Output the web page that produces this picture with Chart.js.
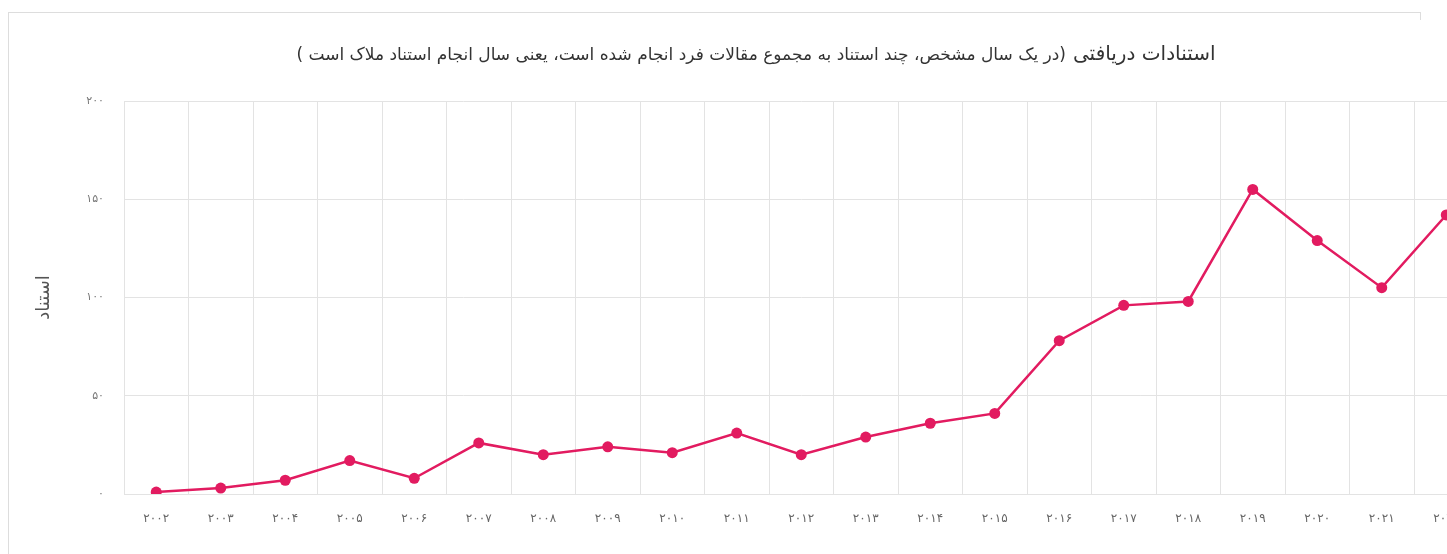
<!DOCTYPE html>
<html lang="fa">
<head>
<meta charset="utf-8">
<title>استنادات دریافتی</title>
<script src="https://cdn.jsdelivr.net/npm/chart.js@4.4.0/dist/chart.umd.min.js"></script>
<style>
  html, body { margin: 0; padding: 0; background: #fff; overflow: hidden; }
  .box { position: absolute; left: 8px; top: 12px; width: 1411px; height: 600px; border: 1px solid #ddd; }
  .chart-wrap { position: absolute; left: 9px; top: 20px; width: 1494px; height: 534px; background: #fff; }
</style>
</head>
<body>
<div class="box"></div>
<div class="chart-wrap"><canvas id="citations"></canvas></div>
<script>
// years (Persian digits) and citations received in each year
const years = ['۲۰۰۲', '۲۰۰۳', '۲۰۰۴', '۲۰۰۵', '۲۰۰۶', '۲۰۰۷', '۲۰۰۸', '۲۰۰۹', '۲۰۱۰', '۲۰۱۱', '۲۰۱۲',
               '۲۰۱۳', '۲۰۱۴', '۲۰۱۵', '۲۰۱۶', '۲۰۱۷', '۲۰۱۸', '۲۰۱۹', '۲۰۲۰', '۲۰۲۱', '۲۰۲۲'];
const citations = [1, 3, 7, 17, 8, 26, 20, 24, 21, 31, 20, 29, 36, 41, 78, 96, 98, 155, 129, 105, 142];
const yTicks = ['۰', '۵۰', '۱۰۰', '۱۵۰', '۲۰۰'];

const titleMain = 'استنادات دریافتی';
const titleNote = '(در یک سال مشخص، چند استناد به مجموع مقالات فرد انجام شده است، یعنی سال انجام استناد ملاک است )';
const yTitle = 'استناد';

const FONT = '"DejaVu Sans", sans-serif';
const lineColor = '#e21b60';
const gridColor = '#e3e3e3';

// two-size title drawn right to left
const titlePlugin = {
  id: 'rtlTitle',
  afterDraw(chart) {
    const ctx = chart.ctx;
    ctx.save();
    ctx.direction = 'rtl';
    ctx.textAlign = 'right';
    ctx.textBaseline = 'middle';
    ctx.fillStyle = '#333';
    ctx.font = '20px ' + FONT;
    const w1 = ctx.measureText(titleMain).width;
    ctx.font = '17px ' + FONT;
    const w2 = ctx.measureText(titleNote).width;
    const gap = 7;
    const right = chart.width / 2 + (w1 + gap + w2) / 2;
    ctx.font = '20px ' + FONT;
    ctx.fillText(titleMain, right, 35);
    ctx.font = '17px ' + FONT;
    ctx.fillText(titleNote, right - w1 - gap, 36);
    ctx.restore();
  }
};

new Chart(document.getElementById('citations'), {
  type: 'line',
  data: {
    labels: years,
    datasets: [{
      data: citations,
      borderColor: lineColor,
      backgroundColor: lineColor,
      borderWidth: 2.5,
      pointRadius: 5.5,
      pointBorderWidth: 0,
      pointBackgroundColor: lineColor,
      tension: 0
    }]
  },
  options: {
    responsive: true,
    maintainAspectRatio: false,
    animation: false,
    layout: { padding: { top: 81, right: 24.5, left: 0, bottom: 0 } },
    plugins: { legend: { display: false }, title: { display: false }, tooltip: { enabled: false } },
    scales: {
      x: {
        offset: true,
        grid: { offset: true, color: gridColor, drawTicks: false },
        border: { color: gridColor },
        ticks: { padding: 18, color: '#666', font: { family: FONT, size: 12 }, maxRotation: 0, autoSkip: false },
        afterFit: s => { s.height = 60; }
      },
      y: {
        min: 0, max: 200,
        grid: { color: gridColor, drawTicks: false },
        border: { color: gridColor },
        ticks: { stepSize: 50, padding: 20, color: '#777', font: { family: FONT, size: 11 },
                 callback: v => yTicks[v / 50] },
        title: { display: true, text: yTitle, color: '#555', font: { family: FONT, size: 18 }, padding: { top: 25 } },
        afterFit: s => { s.width = 115; }
      }
    }
  },
  plugins: [titlePlugin]
});
</script>
</body>
</html>
